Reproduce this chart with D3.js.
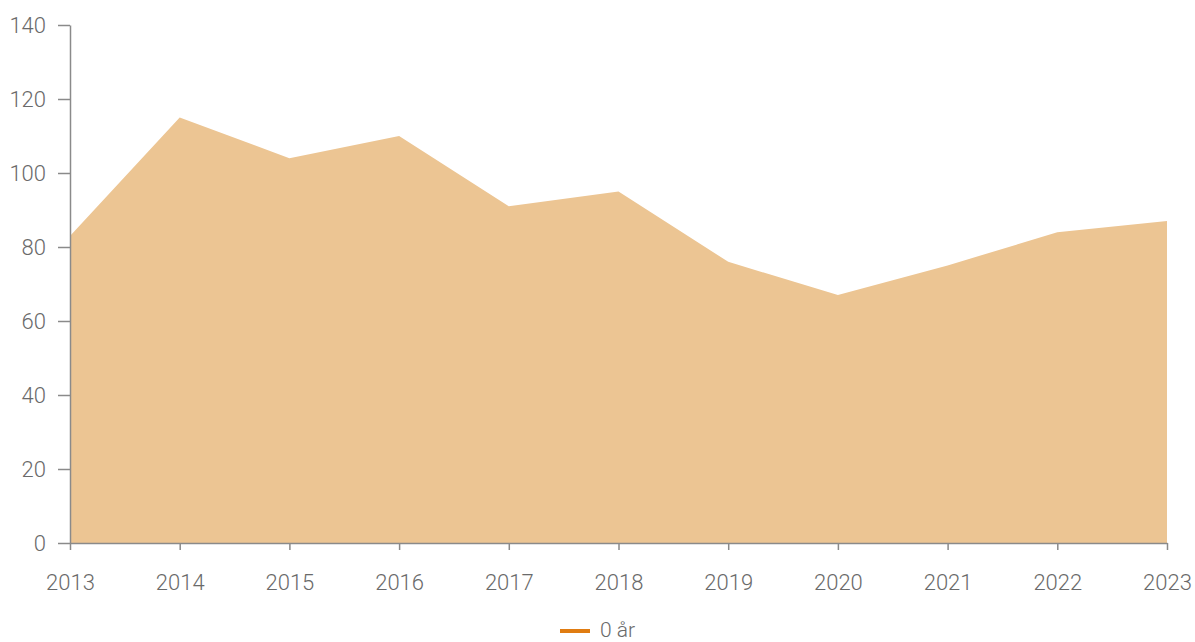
<!DOCTYPE html>
<html><head><meta charset="utf-8">
<script src="https://cdn.jsdelivr.net/npm/d3@7"></script>
<style>body{margin:0;background:#fff;} text{font-family:Roboto,"Liberation Sans",sans-serif;font-weight:300;}</style>
</head><body><svg id="c" width="1195" height="642"></svg>
<script>
const years = [2013,2014,2015,2016,2017,2018,2019,2020,2021,2022,2023];
const values = [83,115,104,110,91,95,76,67,75,84,87];
const yTicks = [0,20,40,60,80,100,120,140];
const seriesName = "0 år";

const svg = d3.select("#c");
const m = {l:70, r:1167, t:25, b:543};
const x = d3.scaleLinear().domain([2013,2023]).range([m.l, m.r]);
const y = d3.scaleLinear().domain([0,140]).range([m.b, m.t]);

const area = d3.area().x((d,i)=>x(years[i])).y0(y(0)).y1(d=>y(d));
svg.append("path").datum(values).attr("d", area).attr("fill","#ecc593");

const ya = svg.append("g").attr("transform",`translate(${m.l},0)`)
  .call(d3.axisLeft(y).tickValues(yTicks).tickSize(12).tickPadding(12).tickSizeOuter(0));
const xa = svg.append("g").attr("transform",`translate(0,${m.b})`)
  .call(d3.axisBottom(x).tickValues(years).tickFormat(d3.format("d")).tickSize(7).tickPadding(24).tickSizeOuter(0));
[ya,xa].forEach(g=>{
  g.selectAll("path,line").attr("stroke","#8a8a8a").attr("stroke-width",1.5);
  g.selectAll("text").attr("fill","#6a6a6a").style("font-size","22px");
});

const lg = svg.append("g");
lg.append("line").attr("x1",560).attr("x2",590).attr("y1",631).attr("y2",631)
  .attr("stroke","#e07c12").attr("stroke-width",4);
lg.append("text").attr("x",600).attr("y",637).attr("fill","#6a6a6a").style("font-size","21px").text(seriesName);
</script></body></html>
